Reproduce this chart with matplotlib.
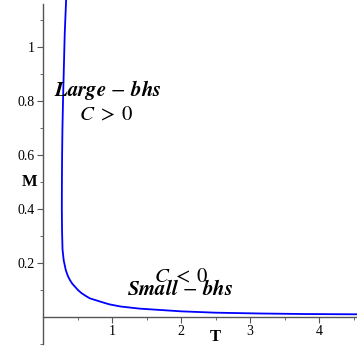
import numpy as np
import matplotlib.pyplot as plt
from matplotlib.ticker import FixedLocator

plt.rcParams['mathtext.fontset'] = 'stix'
plt.rcParams['font.family'] = ['Liberation Serif', 'DejaVu Serif']

# ========= data =========
T = [0.335, 0.315, 0.300, 0.290, 0.282, 0.277, 0.274, 0.273, 0.276, 0.283,
     0.300, 0.330, 0.360, 0.390, 0.425, 0.464, 0.510, 0.560, 0.620, 0.680,
     0.830, 0.960, 1.120, 1.400, 1.700, 2.000, 2.500, 3.140, 3.800, 4.550]
M = [1.174, 1.050, 0.900, 0.800, 0.700, 0.600, 0.500, 0.400, 0.320, 0.250,
     0.210, 0.174, 0.152, 0.137, 0.123, 0.112, 0.099, 0.088, 0.078, 0.069,
     0.057, 0.047, 0.039, 0.031, 0.026, 0.021, 0.016, 0.013, 0.011, 0.010]

x_ticks = [1, 2, 3, 4]
y_ticks = [0.2, 0.4, 0.6, 0.8, 1.0]
y_labels = ["0.2", "0.4", "0.6", "0.8", "1"]

# ========= figure =========
fig = plt.figure(figsize=(3.57, 3.57), dpi=100)
ax = fig.add_axes([0, 0, 1, 1])
ax.set_xlim(-43 / 69, (357 - 43) / 69)
ax.set_ylim(-40 / 270, 317 / 270)

ax.plot(T, M, color="#0000ff", lw=1.3)

axcol = "#555555"
for s in ["top", "right"]:
    ax.spines[s].set_visible(False)
ax.spines["left"].set_position(("data", 0))
ax.spines["bottom"].set_position(("data", 0))
ax.spines["left"].set_bounds(-0.1, 1.16)
ax.spines["bottom"].set_bounds(0, 4.6)
for s in ["left", "bottom"]:
    ax.spines[s].set_color(axcol)
    ax.spines[s].set_linewidth(1.0)

ax.xaxis.set_major_locator(FixedLocator(x_ticks))
ax.xaxis.set_minor_locator(FixedLocator([0.5, 1.5, 2.5, 3.5, 4.5]))
ax.yaxis.set_major_locator(FixedLocator(y_ticks))
ax.yaxis.set_minor_locator(FixedLocator([-0.1, 0.1, 0.3, 0.5, 0.7, 0.9, 1.1]))
ax.set_xticklabels([str(v) for v in x_ticks])
ax.set_yticklabels(y_labels)
ax.tick_params(which="both", direction="out", color=axcol, labelsize=10, pad=2)
ax.tick_params(which="major", length=4)
ax.tick_params(which="minor", length=2.5)

# axis labels
ax.text(-0.2, 0.5, "M", fontsize=12, fontweight="bold", ha="center", va="center")
ax.text(2.5, -0.075, "T", fontsize=12, fontweight="bold", ha="center", va="center")

# annotations
ax.text(0.94, 0.84, r"$\mathbfit{Large}\,-\,\mathbfit{bhs}$", fontsize=15,
        ha="center", va="center")
ax.text(0.92, 0.745, r"$C\;>\;0$", fontsize=15, ha="center", va="center")
ax.text(2.0, 0.146, r"$C\;<\;0$", fontsize=15, ha="center", va="center")
ax.text(1.99, 0.10, r"$\mathbfit{Small}\,-\,\mathbfit{bhs}$", fontsize=15,
        ha="center", va="center")

fig.savefig("out.png", dpi=100)
